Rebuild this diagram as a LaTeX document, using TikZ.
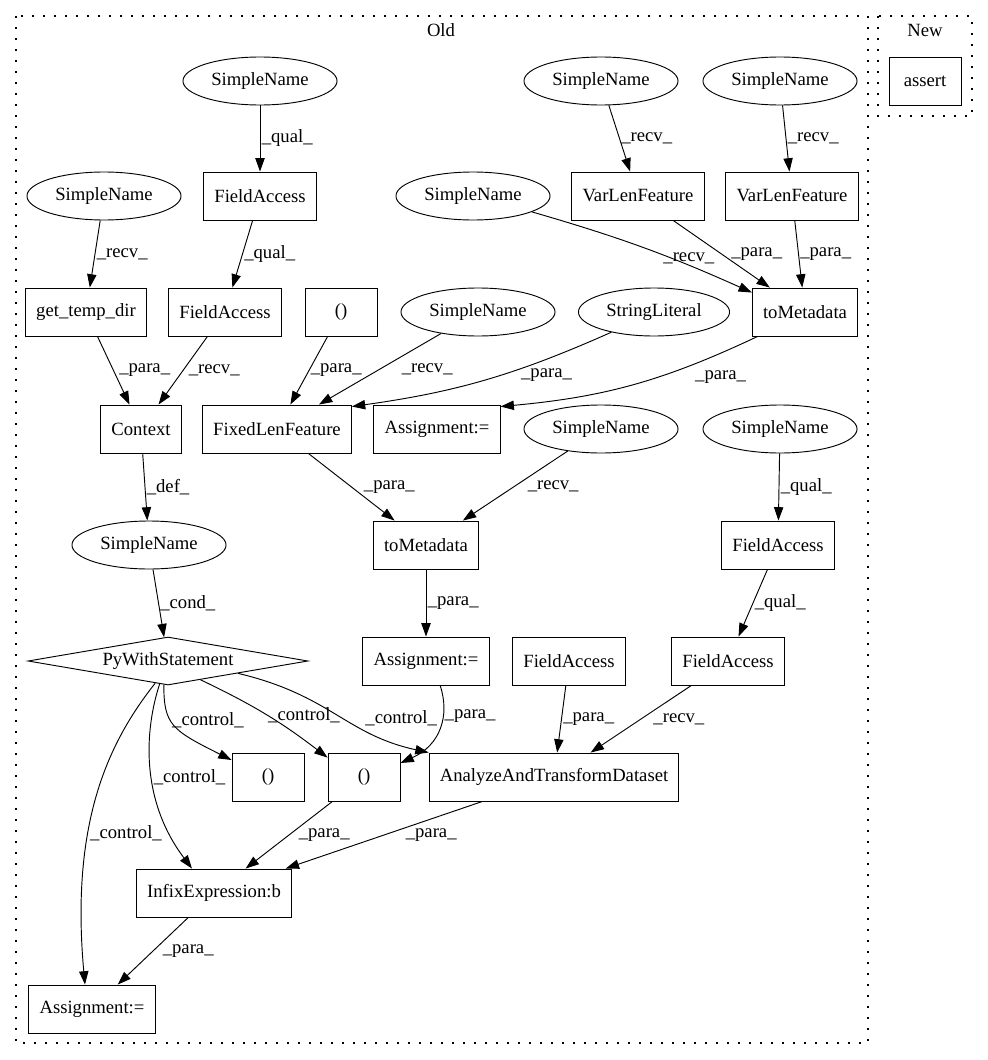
\documentclass[tikz,border=0pt]{standalone}
\usepackage{fontspec}
\setmainfont{Liberation Serif}
\usepackage{tikz}
\usetikzlibrary{positioning,arrows.meta,shapes.geometric}

\begin{document}
\begin{tikzpicture}[x=0.75pt,y=-0.75pt,
  every node/.style={font=\fontsize{14pt}{16pt}\selectfont},
  sn/.style={ellipse,draw,line width=0.7pt,minimum height=36pt,inner xsep=4.3pt,inner ysep=0pt},
  bx/.style={rectangle,draw,line width=0.7pt,minimum height=36pt,minimum width=54pt,inner xsep=8pt},
  dmd/.style={diamond,draw,line width=0.7pt,aspect=5.8,inner sep=0pt,minimum width=210pt,minimum height=36pt},
  arr/.style={-{Triangle[length=10pt,width=7pt]},line width=0.7pt},
  lab/.style={anchor=west,inner sep=1pt},
  clu/.style={line width=0.9pt,dash pattern=on 1.4pt off 6.85pt}
]
\useasboundingbox (0,0) rectangle (988,1060);

% clusters
\draw[clu] (16,16) rectangle (868,1043);
\draw[clu] (878,16) rectangle (972,116);
\node (oldlab) at (441,30) {Old};
\node (newlab) at (925,30) {New};
\node[bx] (assert) at (925,81) {assert};

% nodes
\node[sn] (sn1) at (260,81) {SimpleName};
\node[sn] (sn2) at (601,81) {SimpleName};
\node[sn] (sn3) at (780,81) {SimpleName};
\node[sn] (sn4) at (104,196) {SimpleName};
\node[bx] (fa1) at (260,196) {FieldAccess};
\node[sn] (sn5) at (473,196) {SimpleName};
\node[bx] (vlf1) at (638,196) {VarLenFeature};
\node[bx] (vlf2) at (792,196) {VarLenFeature};
\node[bx] (gtd) at (86,312) {get\_temp\_dir};
\node[bx] (fa2) at (225,312) {FieldAccess};
\node[bx] (par1) at (341,312) {()};
\node[sn] (sn6) at (478,312) {SimpleName};
\node[sn] (strlit) at (654,312) {StringLiteral};
\node[bx] (tometa1) at (805,312) {toMetadata};
\node[bx] (ctx) at (141,429) {Context};
\node[bx] (flf) at (277,429) {FixedLenFeature};
\node[bx] (asg1) at (437,429) {Assignment:=};
\node[sn] (sn7) at (601,429) {SimpleName};
\node[sn] (sn8) at (780,429) {SimpleName};
\node[sn] (sn9) at (149,545) {SimpleName};
\node[bx] (tometa2) at (426,545) {toMetadata};
\node[bx] (fa3) at (778,545) {FieldAccess};
\node[dmd] (pyw) at (168,661) {PyWithStatement};
\node[bx] (asg2) at (426,661) {Assignment:=};
\node[bx] (fa4) at (569,661) {FieldAccess};
\node[bx] (fa5) at (728,661) {FieldAccess};
\node[bx] (par2) at (268,777) {()};
\node[bx] (par3) at (364,777) {()};
\node[bx] (atd) at (554,777) {AnalyzeAndTransformDataset};
\node[bx] (infix) at (214,893) {InfixExpression:b};
\node[bx] (asg3) at (92,1009) {Assignment:=};

% edges
\draw[arr] (sn1) -- node[lab]{\_qual\_} (fa1);
\draw[arr] (fa1) -- node[lab]{\_qual\_} (fa2);
\draw[arr] (sn4) -- node[lab]{\_recv\_} (gtd);
\draw[arr] (sn2) -- node[lab]{\_recv\_} (vlf1);
\draw[arr] (sn3) -- node[lab]{\_recv\_} (vlf2);
\draw[arr] (sn5) to[bend left=4] node[lab,pos=0.55,xshift=6pt,yshift=-5pt]{\_recv\_} ([yshift=-3.75pt]tometa1.north west);
\draw[arr] (vlf1) -- node[lab,xshift=6pt]{\_para\_} (tometa1);
\draw[arr] (vlf2) -- node[lab]{\_para\_} (tometa1);
\draw[arr] (gtd) -- node[lab,xshift=3pt]{\_para\_} (ctx);
\draw[arr] (fa2) -- node[lab,xshift=3pt]{\_recv\_} (ctx);
\draw[arr] (par1) -- node[lab]{\_para\_} (flf);
\draw[arr] (sn6) -- node[lab,xshift=15pt]{\_recv\_} (flf);
\draw[arr] (strlit) to[bend left=8] node[lab,xshift=26pt,yshift=4pt]{\_para\_} ([yshift=-1.5pt]flf.north east);
\draw[arr] (tometa1) to[bend left=10] node[lab,pos=0.3,xshift=10pt,yshift=-6pt]{\_para\_} ([yshift=-1.5pt]asg1.north east);
\draw[arr] (ctx) -- node[lab]{\_def\_} (sn9);
\draw[arr] (flf) -- node[lab,xshift=8pt]{\_para\_} (tometa2);
\draw[arr] (sn7) -- node[lab,xshift=8pt]{\_recv\_} (tometa2);
\draw[arr] (sn8) -- node[lab]{\_qual\_} (fa3);
\draw[arr] (sn9) -- node[lab]{\_cond\_} (pyw);
\draw[arr] (tometa2) -- node[lab]{\_para\_} (asg2);
\draw[arr] (fa3) -- node[lab]{\_qual\_} (fa5);
\draw[arr] (pyw.-100) .. controls +(0,40) and +(-60,-30) .. (par2.155) node[lab,pos=0.4]{\_control\_};
\draw[arr] (pyw.-30) to[bend left=6] node[lab]{\_control\_} (par3.152);
\draw[arr] (pyw.-10) .. controls +(93,22) and +(-83,-18) .. (atd.north west) node[lab,pos=0.5,xshift=20pt,yshift=-3pt]{\_control\_};
\draw[arr] (asg2.-60) .. controls +(10,30) and +(40,-18) .. (par3.21) node[lab,pos=0.35]{\_para\_};
\draw[arr] (fa4) -- node[lab]{\_para\_} (atd);
\draw[arr] (fa5) -- node[lab,xshift=8pt]{\_recv\_} (atd);
\draw[arr] (pyw.-110) .. controls +(-15,46) and +(-52,-69) .. (infix.132) node[lab,pos=0.55]{\_control\_};
\draw[arr] (pyw.-120) .. controls +(-45,57) and +(-15,-165) .. (asg3.106) node[lab,pos=0.63]{\_control\_};
\draw[arr] (par3) -- node[lab,xshift=6pt]{\_para\_} (infix);
\draw[arr] (atd) -- node[lab,xshift=15pt]{\_para\_} (infix);
\draw[arr] (infix) -- node[lab,xshift=6pt]{\_para\_} (asg3);
\end{tikzpicture}
\end{document}
